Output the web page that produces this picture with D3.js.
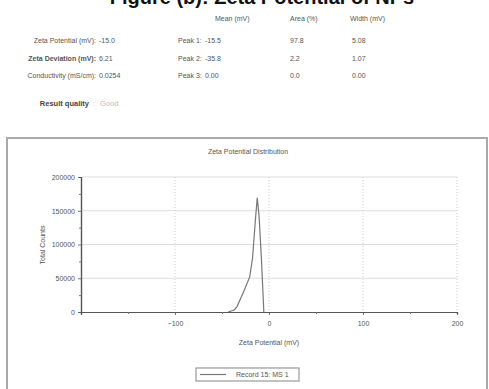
<!DOCTYPE html>
<html><head><meta charset="utf-8">
<script src="https://cdn.jsdelivr.net/npm/d3@7"></script>
<style>
html,body{margin:0;padding:0;background:#fff;}
svg{display:block;}
text{font-family:"Liberation Sans",Arial,sans-serif;}
</style></head>
<body>
<svg id="c" width="489" height="389"></svg>
<script>
// Data
const potential = [-43.5, -37, -34, -27, -20.5, -17.5, -14.5, -12.5, -10.5, -8, -5.5];
const counts    = [0, 3000, 8000, 30000, 52000, 80000, 136000, 169000, 141000, 77000, 0];
const xTicks = [-100, 0, 100, 200];
const xMinor = [-150, -50, 50, 150];
const yTicks = [0, 50000, 100000, 150000, 200000];
const headerCols = ["Mean (mV)", "Area (%)", "Width (mV)"];
const leftLabels = ["Zeta Potential (mV):", "Zeta Deviation (mV):", "Conductivity (mS/cm):"];
const leftValues = ["-15.0", "6.21", "0.0254"];
const peakLabels = ["Peak 1:", "Peak 2:", "Peak 3:"];
const peakMean = ["-15.5", "-35.8", "0.00"];
const peakArea = ["97.8", "2.2", "0.0"];
const peakWidth = ["5.08", "1.07", "0.00"];
const seriesName = "Record 15: MS 1";

const svg = d3.select("#c");

// Caption (cut off at top, as in the reference)
svg.append("text").attr("x", 262).attr("y", 4).attr("text-anchor", "middle")
  .attr("font-family", "Liberation Serif, serif").attr("font-weight", "bold")
  .attr("font-size", 20).attr("fill", "#111").text("Figure (b): Zeta Potential of NPs");

const tc = "#555";
// Header
const colX = [215, 290, 350];
headerCols.forEach((h, i) => svg.append("text").attr("x", colX[i]).attr("y", 21)
  .attr("font-size", 7).attr("fill", tc).text(h));
const rowY = [43, 61, 78];
leftLabels.forEach((l, i) => {
  svg.append("text").attr("x", 96).attr("y", rowY[i]).attr("text-anchor", "end")
    .attr("font-size", 7).attr("fill", tc).attr("font-weight", i === 1 ? "bold" : "normal").text(l);
  svg.append("text").attr("x", 99).attr("y", rowY[i]).attr("font-size", 7).attr("fill", tc).text(leftValues[i]);
  svg.append("text").attr("x", 178).attr("y", rowY[i]).attr("font-size", 7).attr("fill", tc).text(peakLabels[i]);
  svg.append("text").attr("x", 205).attr("y", rowY[i]).attr("font-size", 7).attr("fill", tc).text(peakMean[i]);
  svg.append("text").attr("x", 290).attr("y", rowY[i]).attr("font-size", 7).attr("fill", tc).text(peakArea[i]);
  svg.append("text").attr("x", 352).attr("y", rowY[i]).attr("font-size", 7).attr("fill", tc).text(peakWidth[i]);
});
svg.append("text").attr("x", 89).attr("y", 106).attr("text-anchor", "end").attr("font-weight", "bold")
  .attr("font-size", 7.5).attr("fill", "#444").text("Result quality");
svg.append("text").attr("x", 93).attr("y", 106).attr("font-size", 7.5).attr("fill", "#bbb").text(":");
svg.append("text").attr("x", 100).attr("y", 106).attr("font-size", 7.5).attr("fill", "#bbb").text("Good");

// Frame
svg.append("rect").attr("x", 7).attr("y", 138).attr("width", 480).attr("height", 260)
  .attr("fill", "none").attr("stroke", "#aaa").attr("stroke-width", 2);

svg.append("text").attr("x", 248).attr("y", 154).attr("text-anchor", "middle")
  .attr("font-size", 7).attr("fill", tc).text("Zeta Potential Distribution");

const x = d3.scaleLinear().domain([-200, 200]).range([81, 457]);
const y = d3.scaleLinear().domain([0, 200000]).range([312, 177]);

// grid
svg.append("g").selectAll("line").data(yTicks.slice(1)).join("line")
  .attr("x1", 81).attr("x2", 457).attr("y1", d => y(d)).attr("y2", d => y(d))
  .attr("stroke", "#ddd").attr("stroke-width", 1);
svg.append("g").selectAll("line").data(xTicks).join("line")
  .attr("x1", d => x(d)).attr("x2", d => x(d)).attr("y1", 177).attr("y2", 312)
  .attr("stroke", "#ccc").attr("stroke-dasharray", "1,2");

// axes
const xAxis = svg.append("g").attr("transform", "translate(0,312)")
  .call(d3.axisBottom(x).tickValues(xTicks).tickSize(3).tickFormat(d3.format("d")));
const xMinorAxis = svg.append("g").attr("transform", "translate(0,312)")
  .call(d3.axisBottom(x).tickValues(xMinor).tickSize(2).tickFormat(""));
const yAxis = svg.append("g").attr("transform", "translate(81,0)")
  .call(d3.axisLeft(y).tickValues(yTicks).tickSize(3).tickFormat(d3.format("d")));
const yMinor = svg.append("g").attr("transform", "translate(81,0)")
  .call(d3.axisLeft(y).tickValues([25000, 75000, 125000, 175000]).tickSize(2).tickFormat(""));
[xAxis, xMinorAxis, yAxis, yMinor].forEach(g => {
  g.select(".domain").attr("stroke", "#555").attr("stroke-width", 1.2);
  g.selectAll(".tick line").attr("stroke", "#777");
  g.selectAll("text").attr("font-size", 7).attr("fill", tc).attr("font-family", "Liberation Sans, Arial, sans-serif");
});
xAxis.selectAll("text").attr("dy", "1.1em");

svg.append("text").attr("x", 269).attr("y", 345).attr("text-anchor", "middle")
  .attr("font-size", 7).attr("fill", tc).text("Zeta Potential (mV)");
svg.append("text").attr("transform", "translate(45,245) rotate(-90)").attr("text-anchor", "middle")
  .attr("font-size", 7).attr("fill", tc).text("Total Counts");

// curve
const pts = potential.map((p, i) => [p, counts[i]]);
svg.append("path").datum(pts)
  .attr("d", d3.line().x(d => x(d[0])).y(d => y(d[1])))
  .attr("fill", "none").attr("stroke", "#777").attr("stroke-width", 1.2);

// legend
svg.append("rect").attr("x", 196).attr("y", 368).attr("width", 103).attr("height", 13)
  .attr("fill", "#fff").attr("stroke", "#999").attr("stroke-width", 1.2);
svg.append("line").attr("x1", 200).attr("x2", 226).attr("y1", 374.5).attr("y2", 374.5)
  .attr("stroke", "#777").attr("stroke-width", 1.2);
svg.append("text").attr("x", 236).attr("y", 377).attr("font-size", 7).attr("fill", tc).text(seriesName);
</script>
</body></html>
